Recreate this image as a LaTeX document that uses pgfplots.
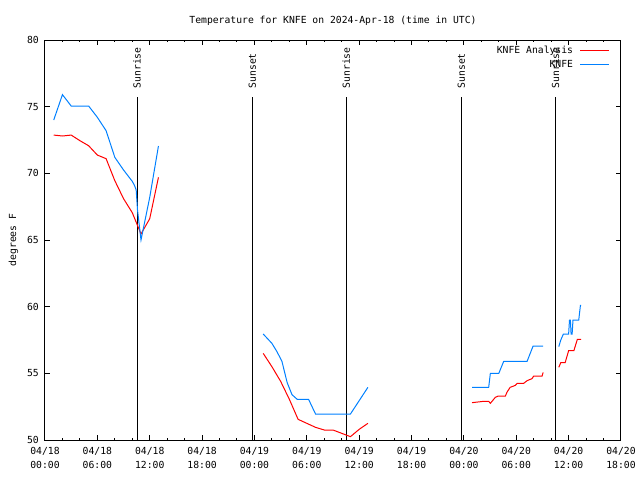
\documentclass[border=0pt]{standalone}
\usepackage{fontspec}
\setmainfont{DejaVu Sans Mono}
\usepackage{pgfplots}
\usepackage{pgfplotstable}
\pgfplotsset{compat=1.18}
\definecolor{knfered}{RGB}{255,0,0}
\definecolor{knfeblue}{RGB}{0,128,255}

\pgfplotstableread{
h t
1 72.87
2 72.8
3 72.87
4 72.45
5 72.07
6 71.37
7 71.1
8 69.45
9 68.1
10 67.05
11 65.45
12 66.6
13 69.7
14 nan
25 56.5
26 55.5
27 54.4
28 53.05
29 51.55
30 51.25
31 50.95
32 50.75
33 50.75
34 50.5
35 50.25
36 50.8
37 51.25
38 nan
48.93 52.8
50.26 52.9
50.84 52.9
51.03 52.75
51.6 53.2
51.95 53.3
52.75 53.3
52.95 53.6
53.3 53.95
53.9 54.1
54.1 54.25
54.85 54.25
55.24 54.45
55.8 54.6
56.0 54.8
56.96 54.8
57.08 55.07
58 nan
58.87 55.45
59.1 55.8
59.6 55.8
60.0 56.7
60.6 56.7
61.0 57.55
61.43 57.55
}\analysis

\pgfplotstableread{
h t
1 74.0
2 75.9
3 75.05
4 75.05
5 75.05
6 74.2
7 73.2
8 71.2
9 70.25
10 69.4
10.25 69.1
10.45 68.75
10.6 67.25
11 65.0
12 68.2
13 72.05
14 nan
25 57.95
26 57.25
26.6 56.6
27.15 55.9
27.75 54.3
28.3 53.4
28.9 53.05
30.2 53.05
31 51.95
35 51.95
37 53.95
38 nan
48.93 53.95
50.84 53.95
51.03 55.0
52.0 55.0
52.56 55.9
55.24 55.9
55.93 57.05
57.07 57.05
58 nan
58.87 57.0
59.1 57.5
59.4 57.95
60.0 57.95
60.1 59.0
60.2 59.0
60.28 57.95
60.4 57.95
60.5 59.0
61.16 59.0
61.35 60.1
61.43 60.1
}\obs

\begin{document}
\begin{tikzpicture}[font=\fontsize{7.3}{10.5}\selectfont]
\useasboundingbox (-33.75pt,-30pt) rectangle (446.25pt,330pt);
\begin{axis}[
  scale only axis, width=432pt, height=300pt,
  xmin=0, xmax=66, ymin=50, ymax=80,
  axis line style={line width=0.75pt},
  tick align=inside,
  major tick length=3.4pt, minor tick length=1.6pt,
  tick style={black, line width=0.75pt},
  xtick={0,6,...,66},
  minor x tick num=2,
  xticklabels={{04/18\\00:00},{04/18\\06:00},{04/18\\12:00},{04/18\\18:00},{04/19\\00:00},{04/19\\06:00},{04/19\\12:00},{04/19\\18:00},{04/20\\00:00},{04/20\\06:00},{04/20\\12:00},{04/20\\18:00}},
  xticklabel style={align=center, inner sep=0pt, yshift=-5.25pt},
  ytick={50,55,...,80},
  yticklabel style={inner sep=0pt, xshift=-4.5pt},
  /pgf/number format/assume math mode=true,
  title={Temperature for KNFE on 2024-Apr-18 (time in UTC)},
  title style={at={(0.5,1)}, anchor=base, yshift=6.75pt, inner sep=0pt},
  ylabel={degrees F},
  ylabel style={at={(axis description cs:-0.0547,0.5)}, anchor=center, inner sep=0pt},
  unbounded coords=jump,
  legend cell align=right, legend plot pos=right,
  legend image code/.code={\draw[#1] (0pt,0pt) -- (21.75pt,0pt);},
  legend style={at={(1,1)}, anchor=north east, xshift=-8.25pt, yshift=-4.3pt,
    draw=none, fill=none, inner sep=0pt, column sep=5pt, row sep=3.5pt,
    nodes={inner sep=0pt, text height=5.5pt, text depth=1.5pt}},
]
\draw[line width=0.75pt] (axis cs:10.55,50) -- (axis cs:10.55,75.75);
\draw[line width=0.75pt] (axis cs:23.77,50) -- (axis cs:23.77,75.75);
\draw[line width=0.75pt] (axis cs:34.52,50) -- (axis cs:34.52,75.75);
\draw[line width=0.75pt] (axis cs:47.7,50) -- (axis cs:47.7,75.75);
\draw[line width=0.75pt] (axis cs:58.49,50) -- (axis cs:58.49,75.75);
\node[rotate=90, anchor=west, inner sep=0pt] at (axis cs:10.55,76.35) {Sunrise};
\node[rotate=90, anchor=west, inner sep=0pt] at (axis cs:23.77,76.35) {Sunset};
\node[rotate=90, anchor=west, inner sep=0pt] at (axis cs:34.52,76.35) {Sunrise};
\node[rotate=90, anchor=west, inner sep=0pt] at (axis cs:47.7,76.35) {Sunset};
\node[rotate=90, anchor=west, inner sep=0pt] at (axis cs:58.49,76.35) {Sunrise};
\addplot[knfered, line width=0.75pt] table[x=h, y=t] {\analysis};
\addlegendentry{KNFE Analysis}
\addplot[knfeblue, line width=0.75pt] table[x=h, y=t] {\obs};
\addlegendentry{KNFE}
\end{axis}
\end{tikzpicture}
\end{document}
